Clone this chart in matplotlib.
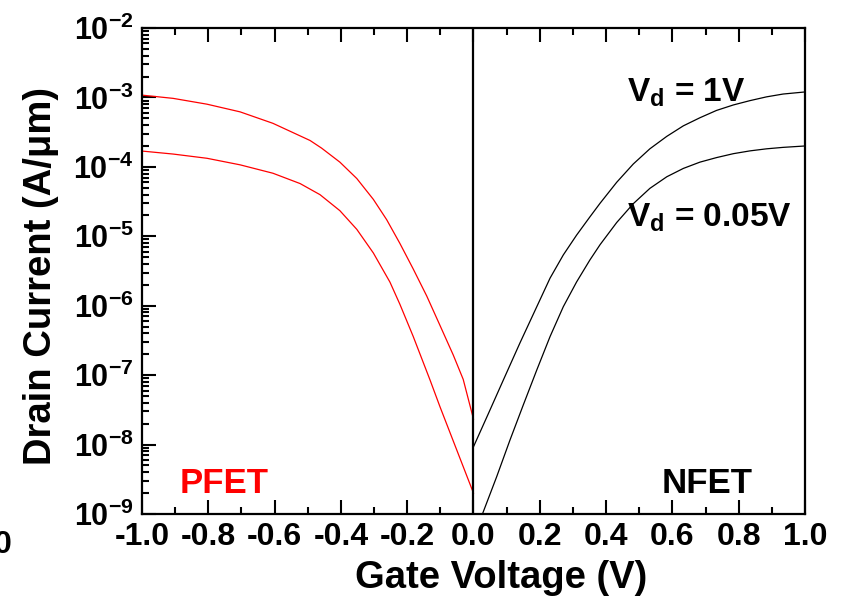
import numpy as np
import matplotlib.pyplot as plt
from matplotlib.ticker import LogLocator, MultipleLocator, NullFormatter

plt.rcParams['font.family'] = ['Liberation Sans', 'DejaVu Sans']
plt.rcParams['font.weight'] = 'bold'
plt.rcParams['mathtext.fontset'] = 'custom'
plt.rcParams['mathtext.rm'] = 'Liberation Sans:bold'
plt.rcParams['mathtext.bf'] = 'Liberation Sans:bold'
plt.rcParams['mathtext.it'] = 'Liberation Sans:bold'
plt.rcParams['axes.unicode_minus'] = False

# PFET curves (gate voltage V, drain current A/um)
pfet_vg_1v = [-1.0, -0.906, -0.804, -0.704, -0.605, -0.493, -0.458, -0.403,
              -0.352, -0.302, -0.262, -0.222, -0.182, -0.141, -0.101, -0.061,
              -0.031, 0.0]
pfet_id_1v = [1.08e-3, 9.7e-4, 8.0e-4, 6.2e-4, 4.24e-4, 2.4e-4, 1.86e-4, 1.17e-4,
              6.8e-5, 3.4e-5, 1.74e-5, 7.9e-6, 3.4e-6, 1.38e-6, 5.2e-7, 1.95e-7,
              8.7e-8, 2.33e-8]

pfet_vg_005 = [-1.0, -0.906, -0.804, -0.704, -0.605, -0.523, -0.463, -0.403,
               -0.352, -0.302, -0.252, -0.222, -0.182, -0.131, -0.101, 0.0]
pfet_id_005 = [1.69e-4, 1.53e-4, 1.33e-4, 1.07e-4, 8.1e-5, 5.75e-5, 3.98e-5, 2.34e-5,
               1.26e-5, 5.75e-6, 2.19e-6, 1.05e-6, 3.63e-7, 8.5e-8, 3.5e-8, 2.0e-9]

# NFET curves
nfet_vg_1v = [0.0, 0.045, 0.090, 0.140, 0.191, 0.231, 0.271, 0.311, 0.351,
              0.382, 0.432, 0.482, 0.532, 0.583, 0.633, 0.683, 0.733, 0.784,
              0.834, 0.884, 0.934, 1.0]
nfet_id_1v = [9.3e-9, 2.8e-8, 8.5e-8, 2.9e-7, 9.7e-7, 2.5e-6, 5.4e-6, 1.04e-5, 1.9e-5,
              3.0e-5, 6.0e-5, 1.1e-4, 1.82e-4, 2.75e-4, 3.9e-4, 5.1e-4, 6.5e-4, 7.8e-4,
              9.0e-4, 1.02e-3, 1.12e-3, 1.2e-3]

nfet_vg_005 = [0.027, 0.070, 0.110, 0.150, 0.191, 0.231, 0.271, 0.311, 0.351,
               0.382, 0.432, 0.482, 0.532, 0.583, 0.633, 0.683, 0.733, 0.784,
               0.834, 0.884, 0.934, 1.0]
nfet_id_005 = [1.0e-9, 3.45e-9, 1.16e-8, 3.7e-8, 1.19e-7, 3.6e-7, 9.7e-7, 2.2e-6, 4.55e-6,
               7.6e-6, 1.58e-5, 2.95e-5, 4.9e-5, 7.2e-5, 9.5e-5, 1.17e-4, 1.36e-4, 1.55e-4,
               1.70e-4, 1.82e-4, 1.91e-4, 2.0e-4]

xtick_vals = [-1.0, -0.8, -0.6, -0.4, -0.2, 0.0, 0.2, 0.4, 0.6, 0.8, 1.0]
xtick_labels = ["-1.0", "-0.8", "-0.6", "-0.4", "-0.2", "0.0", "0.2", "0.4", "0.6", "0.8", "1.0"]
ytick_exps = [-9, -8, -7, -6, -5, -4, -3, -2]

fig = plt.figure(figsize=(8.44, 6.0), dpi=100)
ax = fig.add_axes([0.1682, 0.1433, 0.7856, 0.81])

ax.plot(pfet_vg_1v, pfet_id_1v, color='#ff0000', lw=0.9)
ax.plot(pfet_vg_005, pfet_id_005, color='#ff0000', lw=0.9)
ax.plot(nfet_vg_1v, nfet_id_1v, color='black', lw=0.9)
ax.plot(nfet_vg_005, nfet_id_005, color='black', lw=0.9)
ax.axvline(0.0, color='black', lw=1.6)

ax.set_yscale('log')
ax.set_xlim(-1.0, 1.0)
ax.set_ylim(1e-9, 1e-2)

ax.set_xticks(xtick_vals)
ax.set_xticklabels(xtick_labels, fontsize=23, fontweight='bold')
ax.xaxis.set_minor_locator(MultipleLocator(0.1))
ax.set_yticks([10.0 ** e for e in ytick_exps])
ax.set_yticklabels([r"$\mathbf{10^{%d}}$" % e for e in ytick_exps], fontsize=22)
ax.yaxis.set_minor_locator(LogLocator(base=10, subs=np.arange(2, 10), numticks=20))
ax.yaxis.set_minor_formatter(NullFormatter())

ax.tick_params(which='both', direction='in', top=True, right=False, width=1.5)
ax.tick_params(which='major', length=10, pad=6)
ax.tick_params(which='minor', length=5)
for s in ax.spines.values():
    s.set_linewidth(1.6)

ax.set_xlabel("Gate Voltage (V)", fontsize=27.5, fontweight='bold')
ax.xaxis.set_label_coords(0.542, -0.095)
ax.set_ylabel("Drain Current (A/\u03bcm)", fontsize=27.5, fontweight='bold')
ax.yaxis.set_label_coords(-0.125, 0.49)

ax.text(0.7315, 0.848, r"$\mathbf{V_d}$ = 1V", transform=ax.transAxes,
        fontsize=24, fontweight='bold', va='baseline')
ax.text(0.7315, 0.5905, r"$\mathbf{V_d}$ = 0.05V", transform=ax.transAxes,
        fontsize=24, fontweight='bold', va='baseline')
ax.text(0.057, 0.043, "PFET", transform=ax.transAxes, color='#ff0000',
        fontsize=25, fontweight='bold', va='baseline')
ax.text(0.784, 0.043, "NFET", transform=ax.transAxes, color='black',
        fontsize=25, fontweight='bold', va='baseline')

# clipped label from a neighbouring panel
fig.text(-0.007, 0.078, "0", fontsize=23, fontweight='bold', va='baseline')

fig.savefig("out.png", dpi=100)
